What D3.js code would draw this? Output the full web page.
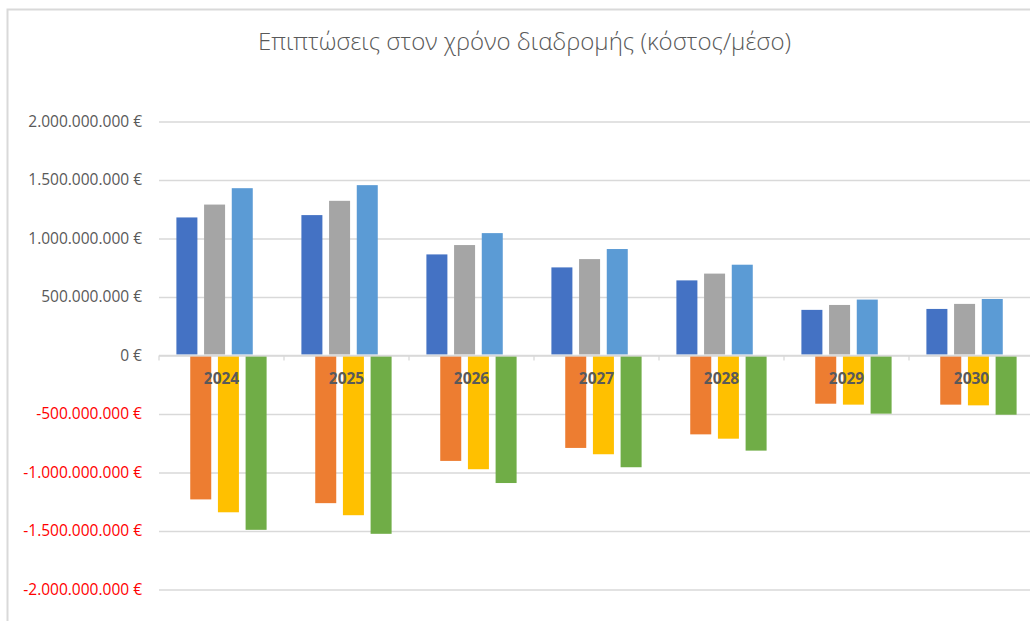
<!DOCTYPE html>
<html>
<head>
<meta charset="utf-8">
<script src="https://cdn.jsdelivr.net/npm/d3@7"></script>
<style>
  html, body { margin: 0; padding: 0; background: #fff; }
  svg { display: block; }
  text { font-family: "Open Sans", "Noto Sans", sans-serif; }
</style>
</head>
<body>
<svg id="chart" width="1030" height="621"></svg>
<script>
// Years on the category axis
const years = ["2024", "2025", "2026", "2027", "2028", "2029", "2030"];

// Series values, in euros (positive: benefits, negative: costs)
const series1 = [1180e6, 1200e6, 864e6, 753e6, 642e6, 390e6, 398e6];
const series2 = [-1230e6, -1262e6, -901e6, -790e6, -674e6, -412e6, -420e6];
const series3 = [1290e6, 1322e6, 944e6, 824e6, 700e6, 432e6, 441e6];
const series4 = [-1340e6, -1365e6, -972e6, -844e6, -711e6, -420e6, -426e6];
const series5 = [1430e6, 1456e6, 1046e6, 910e6, 776e6, 478e6, 483e6];
const series6 = [-1490e6, -1524e6, -1090e6, -955e6, -813e6, -497e6, -506e6];

// Value axis ticks
const yTicks = [2e9, 1.5e9, 1e9, 5e8, 0, -5e8, -1e9, -1.5e9, -2e9];

const seriesList = [
  { key: "s1", values: series1, color: "#4472C4" },
  { key: "s2", values: series2, color: "#ED7D31" },
  { key: "s3", values: series3, color: "#A5A5A5" },
  { key: "s4", values: series4, color: "#FFC000" },
  { key: "s5", values: series5, color: "#5B9BD5" },
  { key: "s6", values: series6, color: "#70AD47" }
];

const title = "Επιπτώσεις στον χρόνο διαδρομής (κόστος/μέσο)";

const svg = d3.select("#chart");
const W = 1030, H = 621;

// chart frame (left and top edges)
svg.append("path")
  .attr("d", `M7.5,${H} V9.5 H${W}`)
  .attr("fill", "none")
  .attr("stroke", "#d9d9d9")
  .attr("stroke-width", 2);

// title
svg.append("text")
  .attr("x", 524.5)
  .attr("y", 50)
  .attr("text-anchor", "middle")
  .attr("fill", "#595959")
  .attr("font-size", 24)
  .attr("font-weight", 300)
  .text(title);

const plotLeft = 159, plotRight = 1034;

const x = d3.scaleBand().domain(years).range([plotLeft, plotRight]).padding(0);
const y = d3.scaleLinear().domain([-2e9, 2e9]).range([589.5, 121.5]);

// overlapping bars inside each year group
const barW = 21;
const offset = d3.scalePoint()
  .domain(seriesList.map(s => s.key))
  .range([-34.6, 34.6]);

const locale = d3.formatLocale({
  decimal: ",", thousands: ".", grouping: [3], currency: ["", " €"], minus: "-"
});
const fmt = locale.format(",.0f");

// value axis with gridlines
const yAxis = svg.append("g")
  .attr("transform", `translate(${plotLeft},0)`)
  .call(d3.axisLeft(y)
    .tickValues(yTicks)
    .tickSize(-(W - plotLeft))
    .tickPadding(17)
    .tickFormat(d => fmt(d) + " €"));
yAxis.select(".domain").remove();
yAxis.selectAll(".tick line")
  .attr("stroke", "#d9d9d9")
  .attr("stroke-width", 1.3);
yAxis.selectAll(".tick text")
  .attr("font-size", 15.5)
  .attr("fill", d => d < 0 ? "#FF0000" : "#595959");

// bars
const groups = svg.append("g").selectAll("g")
  .data(seriesList)
  .join("g")
  .attr("fill", s => s.color);

groups.selectAll("rect")
  .data(s => s.values.map((v, i) => ({ key: s.key, year: years[i], value: v })))
  .join("rect")
  .attr("x", d => x(d.year) + x.bandwidth() / 2 + offset(d.key) - barW / 2)
  .attr("width", barW)
  .attr("y", d => d.value >= 0 ? y(d.value) : y(0) + 1)
  .attr("height", d => d.value >= 0 ? y(0) - 1 - y(d.value) : y(d.value) - y(0) - 1);

// zero line
svg.append("line")
  .attr("x1", plotLeft).attr("x2", W)
  .attr("y1", y(0)).attr("y2", y(0))
  .attr("stroke", "#d9d9d9")
  .attr("stroke-width", 1.3);

// tick marks at category boundaries
svg.append("g").selectAll("line")
  .data(years)
  .join("line")
  .attr("x1", d => x(d)).attr("x2", d => x(d))
  .attr("y1", y(0)).attr("y2", y(0) + 5)
  .attr("stroke", "#d9d9d9")
  .attr("stroke-width", 1.3);

// category labels, on top of bars
const xAxis = svg.append("g")
  .attr("transform", `translate(0,${y(0)})`)
  .call(d3.axisBottom(x).tickSize(0).tickPadding(17));
xAxis.select(".domain").remove();
xAxis.selectAll(".tick text")
  .attr("font-size", 15.5)
  .attr("font-weight", 700)
  .attr("fill", "#595959");
</script>
</body>
</html>
